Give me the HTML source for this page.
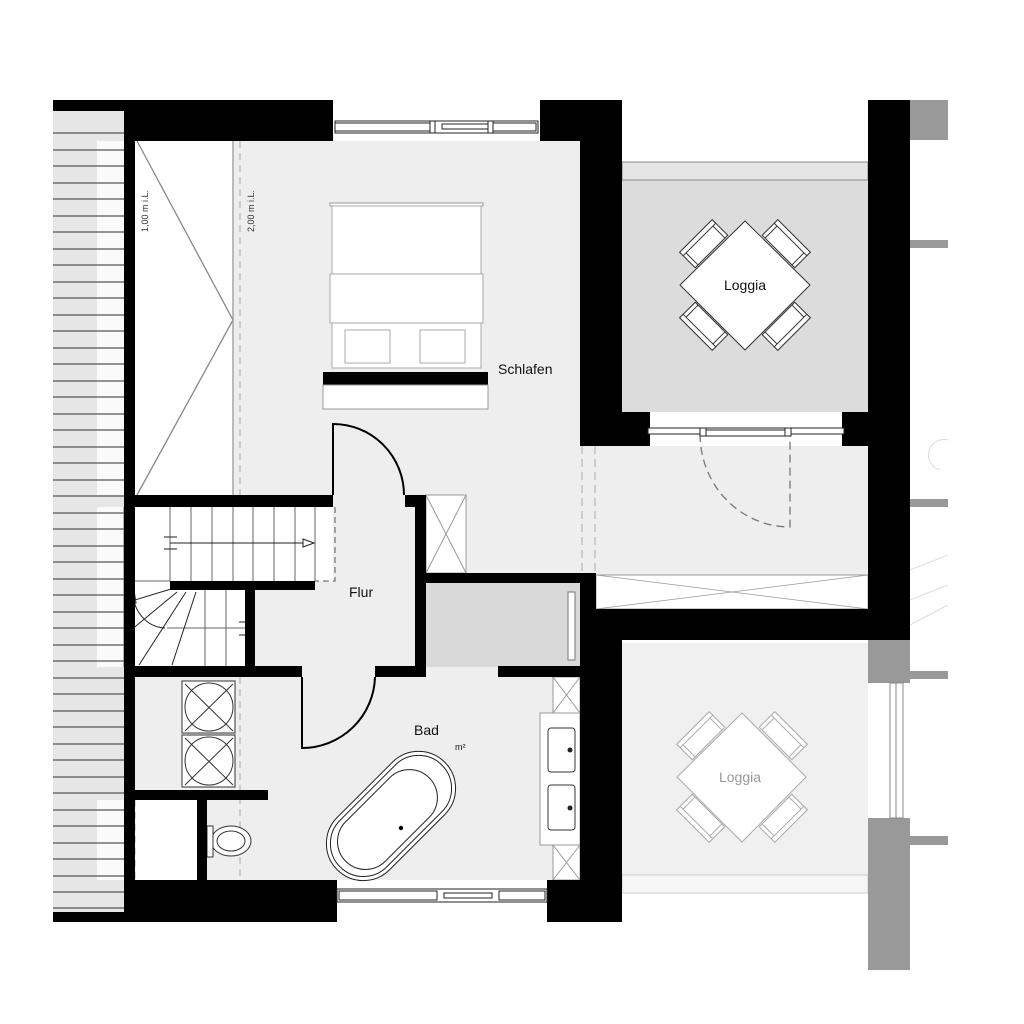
<!DOCTYPE html>
<html><head><meta charset="utf-8"><style>html,body{margin:0;padding:0;background:#fff}svg{display:block}</style></head>
<body>
<svg width="1024" height="1024" viewBox="0 0 1024 1024" xmlns="http://www.w3.org/2000/svg" font-family="Liberation Sans, sans-serif">
<rect width="1024" height="1024" fill="#fff"/>
<!-- left roof strip -->
<rect x="53" y="108" width="71" height="806" fill="#e6e6e6"/>
<rect x="97" y="141" width="27" height="354" fill="#fafafa"/>
<rect x="97" y="507" width="27" height="160" fill="#fafafa"/>
<rect x="97" y="800" width="27" height="80" fill="#fafafa"/>
<g stroke="#555" stroke-width="1.2">
<line x1="53" y1="133" x2="124" y2="133"/><line x1="53" y1="150" x2="124" y2="150"/><line x1="53" y1="166" x2="124" y2="166"/><line x1="53" y1="183" x2="124" y2="183"/><line x1="53" y1="199" x2="124" y2="199"/><line x1="53" y1="216" x2="124" y2="216"/><line x1="53" y1="232" x2="124" y2="232"/><line x1="53" y1="249" x2="124" y2="249"/><line x1="53" y1="265" x2="124" y2="265"/><line x1="53" y1="282" x2="124" y2="282"/><line x1="53" y1="298" x2="124" y2="298"/><line x1="53" y1="315" x2="124" y2="315"/><line x1="53" y1="331" x2="124" y2="331"/><line x1="53" y1="348" x2="124" y2="348"/><line x1="53" y1="364" x2="124" y2="364"/><line x1="53" y1="381" x2="124" y2="381"/><line x1="53" y1="397" x2="124" y2="397"/><line x1="53" y1="414" x2="124" y2="414"/><line x1="53" y1="430" x2="124" y2="430"/><line x1="53" y1="447" x2="124" y2="447"/><line x1="53" y1="463" x2="124" y2="463"/><line x1="53" y1="480" x2="124" y2="480"/><line x1="53" y1="496" x2="124" y2="496"/><line x1="53" y1="513" x2="124" y2="513"/><line x1="53" y1="529" x2="124" y2="529"/><line x1="53" y1="546" x2="124" y2="546"/><line x1="53" y1="562" x2="124" y2="562"/><line x1="53" y1="579" x2="124" y2="579"/><line x1="53" y1="595" x2="124" y2="595"/><line x1="53" y1="612" x2="124" y2="612"/><line x1="53" y1="628" x2="124" y2="628"/><line x1="53" y1="645" x2="124" y2="645"/><line x1="53" y1="661" x2="124" y2="661"/><line x1="53" y1="678" x2="124" y2="678"/><line x1="53" y1="694" x2="124" y2="694"/><line x1="53" y1="711" x2="124" y2="711"/><line x1="53" y1="727" x2="124" y2="727"/><line x1="53" y1="744" x2="124" y2="744"/><line x1="53" y1="760" x2="124" y2="760"/><line x1="53" y1="777" x2="124" y2="777"/><line x1="53" y1="793" x2="124" y2="793"/><line x1="53" y1="810" x2="124" y2="810"/><line x1="53" y1="826" x2="124" y2="826"/><line x1="53" y1="843" x2="124" y2="843"/><line x1="53" y1="859" x2="124" y2="859"/><line x1="53" y1="876" x2="124" y2="876"/><line x1="53" y1="892" x2="124" y2="892"/><line x1="53" y1="908" x2="124" y2="908"/>
</g>
<!-- room fills -->
<rect x="135" y="141" width="445" height="434" fill="#eeeeee"/>
<rect x="255" y="507" width="160" height="170" fill="#eeeeee"/>
<rect x="426" y="660" width="154" height="17" fill="#eeeeee"/>
<rect x="580" y="446" width="288" height="129" fill="#eeeeee"/>
<rect x="135" y="141" width="98" height="354" fill="#fff"/>
<polyline points="137,141 233,320 137,495" fill="none" stroke="#888" stroke-width="1.3"/>
<line x1="233" y1="141" x2="233" y2="495" stroke="#999" stroke-width="1.3"/>
<line x1="240" y1="141" x2="240" y2="495" stroke="#aaa" stroke-width="1" stroke-dasharray="7,5"/>
<text transform="translate(148,232) rotate(-90)" font-size="9" fill="#333">1,00 m i.L.</text>
<text transform="translate(254,232) rotate(-90)" font-size="9" fill="#333">2,00 m i.L.</text>
<!-- bed -->
<rect x="330" y="203" width="153" height="3" fill="#fff" stroke="#999"/>
<rect x="332" y="206" width="149" height="162" fill="#fff" stroke="#aaa"/>
<rect x="330" y="274" width="153" height="49" fill="#fff" stroke="#aaa"/>
<rect x="345" y="330" width="45" height="33" fill="#fff" stroke="#aaa"/>
<rect x="420" y="330" width="45" height="33" fill="#fff" stroke="#aaa"/>
<rect x="323" y="372" width="165" height="13" fill="#000"/>
<rect x="323" y="385" width="165" height="24" fill="#fff" stroke="#999"/>
<text x="498" y="374" font-size="14" fill="#111">Schlafen</text>
<!-- stair -->
<rect x="124" y="507" width="209" height="74" fill="#fff"/>
<rect x="124" y="590" width="121" height="77" fill="#fff"/>
<g stroke="#666" stroke-width="1">
<line x1="170" y1="507" x2="170" y2="581"/><line x1="191" y1="507" x2="191" y2="581"/><line x1="212" y1="507" x2="212" y2="581"/><line x1="233" y1="507" x2="233" y2="581"/><line x1="253" y1="507" x2="253" y2="581"/><line x1="274" y1="507" x2="274" y2="581"/><line x1="295" y1="507" x2="295" y2="581"/><line x1="315" y1="507" x2="315" y2="581"/>
<line x1="124" y1="507" x2="124" y2="667"/>
<line x1="124" y1="581" x2="170" y2="581"/>
<line x1="205" y1="590" x2="205" y2="666"/><line x1="226" y1="590" x2="226" y2="666"/>
<line x1="167" y1="628" x2="245" y2="628"/>
</g>
<g stroke="#222" stroke-width="1">
<line x1="170" y1="543" x2="314" y2="543"/>
<polygon points="303,539 314,543 303,547" fill="#fff"/>
<line x1="164" y1="537" x2="177" y2="537"/><line x1="164" y1="549" x2="177" y2="549"/>
<line x1="171" y1="589" x2="125" y2="603"/><line x1="177" y1="592" x2="125" y2="635"/><line x1="186" y1="592" x2="139" y2="665"/><line x1="196" y1="592" x2="172" y2="665"/>
<path d="M133,592 A33,36 0 0 0 165,628" fill="none"/>
<polygon points="130,603 133,584 136,603" fill="#fff"/>
<line x1="239" y1="622" x2="245" y2="622"/><line x1="239" y1="635" x2="245" y2="635"/>
</g>
<path d="M335,507 V581 H315" fill="none" stroke="#555" stroke-dasharray="6,4"/>
<!-- closet X -->
<rect x="426" y="495" width="40" height="78" fill="#fff" stroke="#999"/>
<path d="M426,495 L466,573 M466,495 L426,573" stroke="#999"/>
<!-- corridor dashed -->
<line x1="582" y1="446" x2="582" y2="575" stroke="#aaa" stroke-dasharray="8,5"/>
<line x1="595" y1="446" x2="595" y2="575" stroke="#aaa" stroke-dasharray="8,5"/>
<rect x="596" y="575" width="272" height="34" fill="#fff" stroke="#999"/>
<path d="M596,575 L868,609 M868,575 L596,609" stroke="#999" stroke-width="0.8"/>
<!-- storage -->
<rect x="426" y="583" width="154" height="84" fill="#d9d9d9"/>
<rect x="568" y="592" width="7" height="68" fill="#fff" stroke="#777"/>
<!-- Bad -->
<rect x="135" y="677" width="445" height="203" fill="#eeeeee"/>
<rect x="135" y="800" width="62" height="80" fill="#fff"/>
<line x1="135" y1="800" x2="135" y2="880" stroke="#aaa" stroke-dasharray="7,5"/>
<line x1="240" y1="677" x2="240" y2="880" stroke="#aaa" stroke-dasharray="7,5"/>
<g fill="#fff" stroke="#333" stroke-width="1">
<rect x="182" y="681" width="53" height="52"/><rect x="182" y="735" width="53" height="52"/>
<circle cx="209" cy="707" r="24" fill="none"/><circle cx="209" cy="761" r="24" fill="none"/>
<path d="M185,684 L233,731 M233,684 L185,731 M185,738 L233,785 M233,738 L185,785" fill="none"/>
<ellipse cx="231" cy="841" rx="20" ry="15"/><ellipse cx="231" cy="841" rx="14" ry="10"/>
<rect x="207" y="826" width="6" height="31"/>
</g>
<g transform="translate(391,816) rotate(-45)" fill="#fff" stroke="#222" stroke-width="1">
<rect x="-76" y="-37" width="152" height="74" rx="37"/>
<rect x="-72" y="-33" width="144" height="66" rx="33"/>
<rect x="-64" y="-28" width="118" height="56" rx="28"/>
</g>
<circle cx="401" cy="828" r="2.2" fill="#000"/>
<rect x="540" y="713" width="40" height="132" fill="#fff" stroke="#999"/>
<rect x="548" y="728" width="27" height="44" rx="3" fill="#fff" stroke="#333"/>
<rect x="548" y="785" width="27" height="45" rx="3" fill="#fff" stroke="#333"/>
<circle cx="570" cy="750" r="2.5" fill="#222"/><circle cx="570" cy="808" r="2.5" fill="#222"/>
<rect x="553" y="677" width="27" height="36" fill="#fff" stroke="#999"/>
<path d="M553,677 L580,713 M580,677 L553,713" stroke="#999"/>
<rect x="553" y="845" width="27" height="35" fill="#fff" stroke="#999"/>
<path d="M553,845 L580,880 M580,845 L553,880" stroke="#999"/>
<text x="414" y="735" font-size="14" fill="#111">Bad</text>
<text x="455" y="750" font-size="9" fill="#111">m²</text>
<text x="349" y="597" font-size="14" fill="#111">Flur</text>
<!-- loggia 1 -->
<rect x="622" y="162" width="246" height="250" fill="#dcdcdc"/>
<rect x="622" y="162" width="246" height="18" fill="#e4e4e4" stroke="#888" stroke-width="1"/>
<!-- loggia 2 -->
<rect x="622" y="643" width="246" height="250" fill="#f0f0f0"/>
<rect x="622" y="875" width="246" height="18" fill="#f6f6f6" stroke="#ccc" stroke-width="1"/>
<!-- tables -->
<g stroke="#333" stroke-width="1" fill="#fff">
<g transform="translate(703,243) rotate(-45)"><rect x="-23" y="-10" width="46" height="22"/><rect x="-23" y="-10" width="46" height="5"/><line x1="-19" y1="-5" x2="-19" y2="12"/><line x1="19" y1="-5" x2="19" y2="12"/></g>
<g transform="translate(787,243) rotate(45)"><rect x="-23" y="-10" width="46" height="22"/><rect x="-23" y="-10" width="46" height="5"/><line x1="-19" y1="-5" x2="-19" y2="12"/><line x1="19" y1="-5" x2="19" y2="12"/></g>
<g transform="translate(703,327) rotate(225)"><rect x="-23" y="-10" width="46" height="22"/><rect x="-23" y="-10" width="46" height="5"/><line x1="-19" y1="-5" x2="-19" y2="12"/><line x1="19" y1="-5" x2="19" y2="12"/></g>
<g transform="translate(787,327) rotate(135)"><rect x="-23" y="-10" width="46" height="22"/><rect x="-23" y="-10" width="46" height="5"/><line x1="-19" y1="-5" x2="-19" y2="12"/><line x1="19" y1="-5" x2="19" y2="12"/></g>
<polygon points="745,221 810,285 745,350 680,285"/>
</g>
<text x="745" y="290" font-size="14" text-anchor="middle" fill="#111">Loggia</text>
<g stroke="#aaa" stroke-width="1" fill="#fff">
<g transform="translate(700,735) rotate(-45)"><rect x="-23" y="-10" width="46" height="22"/><rect x="-23" y="-10" width="46" height="5"/><line x1="-19" y1="-5" x2="-19" y2="12"/><line x1="19" y1="-5" x2="19" y2="12"/></g>
<g transform="translate(784,735) rotate(45)"><rect x="-23" y="-10" width="46" height="22"/><rect x="-23" y="-10" width="46" height="5"/><line x1="-19" y1="-5" x2="-19" y2="12"/><line x1="19" y1="-5" x2="19" y2="12"/></g>
<g transform="translate(700,819) rotate(225)"><rect x="-23" y="-10" width="46" height="22"/><rect x="-23" y="-10" width="46" height="5"/><line x1="-19" y1="-5" x2="-19" y2="12"/><line x1="19" y1="-5" x2="19" y2="12"/></g>
<g transform="translate(784,819) rotate(135)"><rect x="-23" y="-10" width="46" height="22"/><rect x="-23" y="-10" width="46" height="5"/><line x1="-19" y1="-5" x2="-19" y2="12"/><line x1="19" y1="-5" x2="19" y2="12"/></g>
<polygon points="742,713 806,777 742,842 677,777"/>
</g>
<text x="740" y="782" font-size="14" text-anchor="middle" fill="#999">Loggia</text>
<!-- BLACK WALLS -->
<g fill="#000">
<rect x="53" y="100" width="71" height="11"/>
<rect x="124" y="100" width="209" height="41"/>
<rect x="540" y="100" width="82" height="41"/>
<rect x="124" y="100" width="11" height="822"/>
<rect x="580" y="100" width="42" height="346"/>
<rect x="580" y="412" width="70" height="22"/>
<rect x="580" y="434" width="70" height="12"/>
<rect x="842" y="412" width="26" height="34"/>
<rect x="868" y="100" width="42" height="540"/>
<rect x="580" y="609" width="330" height="31"/>
<rect x="135" y="495" width="198" height="12"/>
<rect x="405" y="495" width="21" height="12"/>
<rect x="415" y="495" width="11" height="182"/>
<rect x="426" y="573" width="170" height="10"/>
<rect x="580" y="573" width="16" height="307"/>
<rect x="596" y="609" width="26" height="313"/>
<rect x="170" y="581" width="145" height="9"/>
<rect x="245" y="581" width="10" height="96"/>
<rect x="124" y="666" width="178" height="11"/>
<rect x="375" y="666" width="51" height="11"/>
<rect x="498" y="666" width="82" height="11"/>
<rect x="124" y="790" width="144" height="10"/>
<rect x="197" y="800" width="10" height="80"/>
<rect x="124" y="880" width="213" height="42"/>
<rect x="547" y="880" width="75" height="42"/>
<rect x="53" y="912" width="71" height="10"/>
</g>
<!-- doors -->
<g fill="none" stroke="#000" stroke-width="2">
<path d="M333,495 V424 A71,71 0 0 1 404,495"/>
<path d="M302,677 V748 A73,73 0 0 0 375,677"/>
</g>
<path d="M700,434 A90,93 0 0 0 790,527 V434" fill="none" stroke="#777" stroke-width="1.3" stroke-dasharray="8,5"/>
<!-- windows -->
<g stroke="#222" stroke-width="1" fill="#fff">
<rect x="333" y="100" width="207" height="22" stroke="none"/>
<rect x="335" y="121" width="203" height="12"/>
<rect x="335" y="123" width="96" height="8"/><rect x="442" y="124" width="48" height="5"/><rect x="490" y="123" width="46" height="8"/>
<rect x="430" y="121" width="5" height="12"/><rect x="488" y="121" width="5" height="12"/>
<rect x="337" y="902" width="210" height="20" stroke="none"/>
<rect x="337" y="889" width="210" height="13"/>
<rect x="339" y="891" width="98" height="9"/><rect x="444" y="893" width="48" height="5"/><rect x="499" y="891" width="46" height="9"/>
<rect x="650" y="412" width="192" height="20" stroke="none"/>
<rect x="648" y="428" width="196" height="6"/><rect x="700" y="430" width="88" height="6"/>
<rect x="700" y="428" width="6" height="8"/><rect x="785" y="428" width="6" height="8"/>
</g>
<!-- right gray -->
<g fill="#999">
<rect x="910" y="100" width="38" height="40"/>
<rect x="910" y="240" width="38" height="8"/>
<rect x="910" y="499" width="38" height="8"/>
<rect x="910" y="671" width="38" height="8"/>
<rect x="910" y="836" width="38" height="9"/>
<rect x="868" y="640" width="42" height="43"/>
<rect x="868" y="818" width="42" height="152"/>
</g>
<rect x="890" y="683" width="13" height="135" fill="#fff" stroke="#888"/>
<line x1="896" y1="683" x2="896" y2="818" stroke="#888"/>
<g stroke="#ddd" fill="none" stroke-width="1">
<path d="M910,570 L948,555 M910,600 L948,585 M910,625 L948,605"/>
<path d="M948,440 A10,10 0 0 0 940,470"/>
</g>
</svg>
</body></html>
